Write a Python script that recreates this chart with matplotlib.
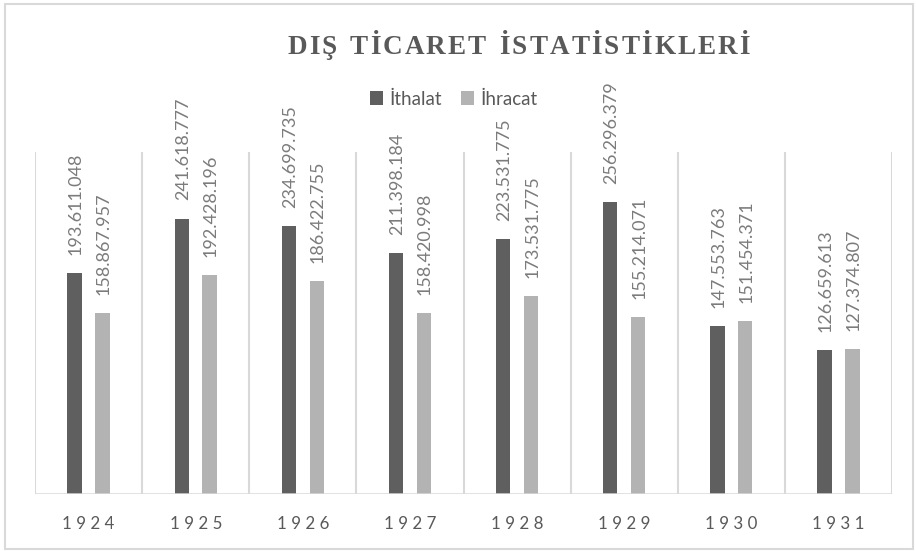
import matplotlib
matplotlib.use("Agg")
import matplotlib.pyplot as plt
from matplotlib.font_manager import FontProperties
from matplotlib.patches import Rectangle, Patch
import numpy as np

years = ["1924", "1925", "1926", "1927", "1928", "1929", "1930", "1931"]
ithalat = [193611048, 241618777, 234699735, 211398184, 223531775, 256296379, 147553763, 126659613]
ihracat = [158867957, 192428196, 186422755, 158420998, 173531775, 155214071, 151454371, 127374807]
series_names = ["İthalat", "İhracat"]
title = "DIŞ TİCARET İSTATİSTİKLERİ"

DARK = "#5f5f5f"
LIGHT = "#b3b3b3"
GRID = "#d9d9d9"
TXT = "#595959"
LBL = "#7b7b7b"

W, H = 916, 551
fig = plt.figure(figsize=(W / 100, H / 100), dpi=100)
fig.patch.set_facecolor("white")

# outer chart border
fig.add_artist(Rectangle((5 / W, 1 - 549 / H), (913 - 5) / W, (549 - 4) / H,
                         transform=fig.transFigure, fill=False, edgecolor=GRID, lw=1.5))

ax = fig.add_axes([35 / W, 1 - 494 / H, (892 - 35) / W, (494 - 152) / H])
x = np.arange(len(years))
bw = 0.135
off = 0.13
vals1 = np.array(ithalat) / 1e6
vals2 = np.array(ihracat) / 1e6
b1 = ax.bar(x - off, vals1, bw, color=DARK, zorder=3)
b2 = ax.bar(x + off, vals2, bw, color=LIGHT, zorder=3)
ax.set_xlim(-0.5, len(years) - 0.5)
ax.set_ylim(0, 300)
for s in ax.spines.values():
    s.set_visible(False)
ax.set_yticks([])
for b in np.arange(-0.5, len(years), 1.0):
    ax.axvline(b, color=GRID, lw=1.5, zorder=1)
ax.axhline(0, color=GRID, lw=1.8, zorder=4)

ax.set_xticks(x)
ax.set_xticklabels([" ".join(y) for y in years], family="Lato",
                   fontsize=12.2, color=TXT)
ax.tick_params(axis="x", length=0, pad=16)

def fmt(v):
    return f"{v:,}".replace(",", ".")

lab_font = dict(family="Lato", size=13, color=LBL)
for bars, raw in ((b1, ithalat), (b2, ihracat)):
    for rect, v in zip(bars, raw):
        ax.annotate(fmt(v), (rect.get_x() + rect.get_width() / 2, rect.get_height()),
                    xytext=(0.8, 13), textcoords="offset points", rotation=90,
                    ha="center", va="bottom", **lab_font)

renderer = fig.canvas.get_renderer()

def spaced_title(s, x0, x1, baseline, fp, color, word_px):
    widths = []
    for ch in s:
        if ch == " ":
            widths.append(word_px)
        else:
            w, _, _ = renderer.get_text_width_height_descent(ch, fp, ismath=False)
            widths.append(w)
    g = ((x1 - x0) - sum(widths)) / (len(s) - 1)
    xs = x0
    for ch, w in zip(s, widths):
        if ch != " ":
            fig.text(xs / W, 1 - baseline / H, ch, fontproperties=fp, color=color,
                     ha="left", va="baseline")
        xs += w + g

title_fp = FontProperties(family="Liberation Serif", weight="bold", size=19.5)
spaced_title(title, 287, 750, 54, title_fp, TXT, 9)

handles = [Patch(facecolor=DARK), Patch(facecolor=LIGHT)]
fig.legend(handles, series_names, loc="center", bbox_to_anchor=(453.5 / W, 1 - 99 / H),
           ncol=2, frameon=False, prop=FontProperties(family="Lato", size=13.5),
           labelcolor=TXT, handlelength=0.7, handleheight=0.7, handletextpad=0.35,
           columnspacing=1.0, borderpad=0, borderaxespad=0)

fig.savefig("out.png", dpi=100, facecolor="white")
